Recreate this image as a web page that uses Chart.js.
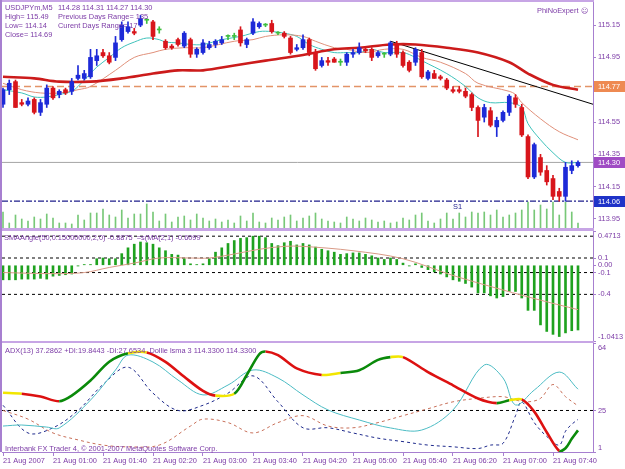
<!DOCTYPE html>
<html>
<head>
<meta charset="utf-8">
<script src="https://cdn.jsdelivr.net/npm/chart.js@4.4.0/dist/chart.umd.min.js"></script>
<style>
body { margin:0; background:#fff; width:625px; height:469px; position:relative; overflow:hidden; font-family:"Liberation Sans", sans-serif; }
canvas { position:absolute; left:0; }
.t { position:absolute; color:#7b3aa6; font-size:7.4px; white-space:pre; line-height:9px; }
.sep { position:absolute; background:#c7a5e5; }
</style>
</head>
<body>
<canvas id="cMain" width="625" height="230" style="top:0"></canvas>
<canvas id="cAngle" width="625" height="114" style="top:229px"></canvas>
<canvas id="cAdx" width="625" height="128" style="top:341px"></canvas>

<div class="sep" style="left:0;top:0;width:594px;height:2px"></div>
<div class="sep" style="left:0;top:228px;width:594px;height:3px"></div>
<div class="sep" style="left:0;top:341px;width:594px;height:2px"></div>
<div class="sep" style="left:0;top:0;width:2px;height:452px;background:#a77fd0"></div>

<div class="t" style="left:5px;top:3px">USDJPYm,M5</div>
<div class="t" style="left:58px;top:3px">114.28 114.31 114.27 114.30</div>
<div class="t" style="left:5px;top:12px">High= 115.49</div>
<div class="t" style="left:58px;top:12px">Previous Days Range= 135</div>
<div class="t" style="left:5px;top:21px">Low= 114.14</div>
<div class="t" style="left:58px;top:21px">Curent Days Range= 17</div>
<div class="t" style="left:5px;top:30px">Close= 114.69</div>
<div class="t" style="left:537px;top:6px">PhiNoExpert ☹</div>
<div class="t" style="left:4px;top:233px">SMAAngle(50,0.15000000,2,0) -0.8875  =s(MA(2,1) -0.6099</div>
<div class="t" style="left:5px;top:346px">ADX(13) 37.2862 +DI:19.8443 -DI:27.6534  Dollie lsma 3 114.3300 114.3300</div>
<div class="t" style="left:5px;top:444px">Interbank FX Trader 4, © 2001-2007 MetaQuotes Software Corp.</div>

<script>
// USDJPYm M5, 21 Aug 2007, one bar every 5 minutes from 00:20
var opens  = [114.66,114.75,114.80,114.67,114.66,114.69,114.61,114.66,114.76,114.72,114.75,114.74,114.82,114.82,114.83,114.93,114.98,114.96,114.95,115.06,
              115.11,115.11,115.15,115.18,115.17,115.12,115.05,115.02,115.06,115.02,115.06,114.97,114.98,115.01,115.03,115.04,115.08,115.08,115.12,115.03,
              115.10,115.14,115.15,115.16,115.10,115.10,115.07,115.00,115.01,115.06,114.98,114.90,114.93,114.94,114.92,114.92,114.97,114.98,115.00,115.00,
              114.96,114.97,114.97,115.03,114.98,114.92,114.92,114.98,114.82,114.85,114.83,114.81,114.75,114.75,114.74,114.72,114.64,114.58,114.62,114.52,
              114.56,114.61,114.70,114.64,114.46,114.21,114.33,114.25,114.20,114.12,114.09,114.25,114.28];
var highs  = [114.76,114.81,114.81,114.69,114.70,114.70,114.69,114.78,114.77,114.75,114.76,114.82,114.90,114.87,115.00,115.00,115.00,114.98,115.08,115.17,
              115.17,115.13,115.21,115.19,115.18,115.14,115.06,115.03,115.07,115.11,115.07,115.01,115.06,115.05,115.06,115.08,115.09,115.10,115.14,115.07,
              115.19,115.17,115.16,115.18,115.11,115.11,115.08,115.03,115.09,115.07,115.00,114.95,114.95,114.95,114.94,114.98,115.00,115.04,115.01,115.01,
              114.99,114.98,115.05,115.05,114.99,114.93,115.01,115.00,114.87,114.87,114.84,114.82,114.77,114.77,114.76,114.73,114.65,114.66,114.64,114.58,
              114.62,114.72,114.72,114.66,114.47,114.42,114.35,114.28,114.22,114.14,114.30,114.31,114.31];
var lows   = [114.64,114.72,114.64,114.65,114.65,114.60,114.59,114.64,114.69,114.70,114.72,114.72,114.81,114.81,114.82,114.90,114.95,114.91,114.93,115.05,
              115.10,115.09,115.14,115.16,115.06,115.10,115.00,115.00,115.02,115.01,114.95,114.95,114.97,115.00,115.01,115.03,115.06,115.06,115.02,115.01,
              115.09,115.13,115.14,115.10,115.09,115.07,114.97,114.99,115.00,114.96,114.87,114.89,114.90,114.92,114.90,114.90,114.95,114.97,114.98,114.93,
              114.95,114.95,114.96,114.95,114.89,114.86,114.90,114.82,114.81,114.82,114.81,114.75,114.73,114.73,114.70,114.62,114.46,114.55,114.52,114.46,
              114.55,114.59,114.64,114.46,114.20,114.20,114.22,114.16,114.07,114.06,114.06,114.23,114.27];
var closes = [114.75,114.79,114.64,114.66,114.68,114.61,114.67,114.76,114.70,114.74,114.73,114.80,114.84,114.85,114.95,114.96,114.96,114.92,115.04,115.15,
              115.14,115.10,115.19,115.18,115.08,115.12,115.01,115.01,115.03,115.10,114.97,115.00,115.04,115.03,115.05,115.06,115.08,115.08,115.04,115.06,
              115.17,115.16,115.15,115.11,115.10,115.08,114.98,115.01,115.06,114.98,114.88,114.93,114.92,114.92,114.92,114.97,114.98,115.01,114.99,114.95,
              114.98,114.97,115.04,114.97,114.90,114.87,115.00,114.83,114.86,114.82,114.82,114.76,114.74,114.74,114.71,114.64,114.56,114.64,114.53,114.56,
              114.61,114.71,114.66,114.47,114.21,114.41,114.24,114.18,114.09,114.09,114.27,114.28,114.30];
var volumes = [32,10,26,18,14,22,18,28,20,10,10,8,26,16,30,30,38,26,22,36,20,28,28,48,32,14,28,12,22,24,16,28,
               20,14,18,12,16,10,24,14,30,12,10,20,16,22,26,14,20,24,30,18,14,12,10,22,18,14,20,16,12,
               14,10,12,20,16,26,30,14,10,18,30,18,30,22,32,30,32,26,36,22,26,30,36,52,36,46,38,52,26,52,32,10];

// moving averages (bar index, price)
var maSlowBars = [0,5,9,14,19,24,28,32,37,42,48,53,57,62,66,71,76,81,84,88,92];
var maSlowVals = [114.83,114.82,114.80,114.80,114.82,114.85,114.87,114.87,114.90,114.93,114.965,115.00,115.01,115.03,115.03,115.01,114.98,114.92,114.85,114.78,114.75];
var maMidBars = [0,3,6,9,12,14,18,21,24,26,29,32,37,40,42,45,48,50,53,55,58,61,64,67,70,74,76,81,82,83,86,89,92];
var maMidVals = [114.79,114.75,114.73,114.73,114.75,114.77,114.87,114.95,114.98,115.00,115.01,115.01,115.05,115.06,115.08,115.09,115.08,115.05,115.01,115.00,114.98,115.00,115.00,114.95,114.92,114.85,114.79,114.74,114.72,114.67,114.57,114.49,114.44];
var maFastBars = [0,3,5,7,9,11,12,14,15,17,19,21,23,25,26,28,30,32,35,38,41,43,45,47,49,51,53,55,57,59,61,64,66,67,71,74,76,78,81,83,84,86,88,90,92];
var maFastVals = [114.75,114.73,114.705,114.705,114.72,114.74,114.77,114.85,114.89,114.95,115.01,115.045,115.07,115.06,115.045,115.04,115.03,115.03,115.06,115.08,115.11,115.11,115.10,115.08,115.03,115.00,114.98,114.98,114.98,115.00,114.98,114.98,114.95,114.93,114.85,114.77,114.70,114.67,114.67,114.64,114.54,114.44,114.36,114.30,114.30];
var trendBars = [62, 94.4];
var trendVals = [115.05, 114.66];
var pivotLevel = 114.77, bidLevel = 114.30, s1Level = 114.06;
var priceTicks = [113.95,114.15,114.35,114.55,114.75,114.95,115.15];

// SMAAngle pane
var angle = [-0.20,-0.20,-0.20,-0.19,-0.19,-0.19,-0.18,-0.19,-0.15,-0.14,-0.13,-0.12,
             -0.01,0.01,0.01,0.09,0.10,0.09,0.09,0.16,0.24,0.29,0.32,0.31,0.29,0.24,0.20,0.15,0.14,0.09,0.02,0.01,0.02,0.09,0.18,0.24,0.30,0.34,0.37,0.38,0.40,0.40,0.38,0.30,0.27,0.31,0.33,0.28,
             0.30,0.28,0.25,0.22,0.20,0.18,0.15,0.16,0.17,0.17,0.15,0.13,0.10,0.08,0.10,0.08,0.03,-0.01,0.02,-0.03,-0.06,-0.09,-0.12,-0.16,-0.20,-0.22,-0.25,-0.30,-0.38,-0.38,-0.42,-0.45,-0.43,-0.36,-0.36,-0.45,-0.62,-0.62,-0.82,-0.91,-0.95,-0.98,-0.93,-0.90,-0.89];
var signalBars = [0,8,13,17,21,25,30,33,37,41,45,48,56,64,72,80,86,92];
var signalVals = [-0.10,-0.115,-0.10,-0.03,0.03,0.10,0.10,0.10,0.155,0.22,0.26,0.26,0.20,0.09,-0.14,-0.34,-0.48,-0.61];
var angleLevels = [0.4,0.1,-0.1,-0.4];
var angleTicks = [0.4713,0.1,0,-0.1,-0.4,-1.0413];
var angleTickText = ['0.4713','0.1','0.00','-0.1','-0.4','-1.0413'];

// ADX pane
var adxBars = [0,3,7,9,14,18,20,24,28,32,36,40,44,48,52,57,62,67,72,77,80,82,85,89,92];
var adxVals = [16.0,16.6,15.4,14.9,31,48.4,57,53,42.6,34,39.7,48.4,43.8,34,25.3,19.5,14.9,13.7,25.3,51.3,43.8,28.2,36.8,47.2,37.3];
var plusDiBars = [0,4,8,12,16,20,24,28,32,36,40,44,48,52,56,60,64,68,72,76,78,80,82,83,85,87,89,90,91,92];
var plusDiVals = [28,12,15,25,40,50,35,25,28,35,45,30,15,15,12,9,7,5,4,3,5,6,22,30,18,10,5,13,17,19.84];
var minusDiBars = [0,4,8,12,16,20,25,30,32,36,40,44,48,52,56,60,64,68,72,76,80,82,84,86,88,90,92];
var minusDiVals = [25,20,12,8,5,4,5,16,20,18,12,18,22,16,15,18,22,26,30,32,33,31,30,32,40,33,27.65];
var lsmaBars = [0,3,6,9,11,14,17,20,23,26,29,32,34,37,39,41,42,44,47,51,54,57,60,62,64,68,72,76,79,81,83,85,87,89,90,91,92];
var lsmaVals = [114.73,114.72,114.69,114.64,114.70,114.86,115.06,115.15,115.16,115.06,114.90,114.75,114.70,114.72,114.92,115.14,115.17,115.13,114.99,114.92,114.94,114.97,115.08,115.11,115.11,114.95,114.81,114.67,114.62,114.65,114.66,114.53,114.31,114.11,114.14,114.24,114.33];
var adxTicks = [64,25,1];

var xTickBars = [0,8,16,24,32,40,48,56,64,72,80,88];
var xTickLabels = ['21 Aug 2007','21 Aug 01:00','21 Aug 01:40','21 Aug 02:20','21 Aug 03:00','21 Aug 03:40',
                   '21 Aug 04:20','21 Aug 05:00','21 Aug 05:40','21 Aug 06:20','21 Aug 07:00','21 Aug 07:40'];

var TXT = '#7b3aa6', FRAME = '#a77fd0';
var XMIN = -0.16, XMAX = 94.4;
var FONT = '7.4px "Liberation Sans"';

function pts(bars, vals) { return bars.map(function (b, i) { return {x: b, y: vals[i]}; }); }
function level(v, color, dash, width) {
  return {type: 'line', data: [{x: XMIN, y: v}, {x: XMAX, y: v}], borderColor: color, borderDash: dash,
          borderWidth: width, pointRadius: 0, order: 8};
}
function line(bars, vals, color, width, extra) {
  return Object.assign({type: 'line', data: pts(bars, vals), borderColor: color, borderWidth: width,
                        pointRadius: 0, tension: 0.35, order: 3}, extra || {});
}

var rightLabels = {
  id: 'rightLabels',
  afterDraw: function (chart, args, o) {
    var ctx = chart.ctx, a = chart.chartArea, s = chart.scales.y;
    ctx.save();
    ctx.font = FONT; ctx.textBaseline = 'middle'; ctx.textAlign = 'left';
    o.values.forEach(function (v, i) {
      var y = Math.min(Math.max(s.getPixelForValue(v), a.top + 5), a.bottom - 4);
      ctx.fillStyle = TXT;
      ctx.fillText(o.labels[i], a.right + 5, y);
    });
    (o.tags || []).forEach(function (t) {
      var y = Math.round(s.getPixelForValue(t.value));
      ctx.fillStyle = t.bg;
      ctx.fillRect(a.right + 1, y - 5, 31, 11);
      ctx.fillStyle = '#fff';
      ctx.fillText(t.value.toFixed(2), a.right + 5, y + 0.5);
    });
    if (o.note) {
      ctx.fillStyle = '#1e1e8c';
      ctx.fillText(o.note.text, chart.scales.x.getPixelForValue(o.note.bar), s.getPixelForValue(o.note.value) + 6);
    }
    ctx.restore();
  }
};

function yAxis(min, max, ticks) {
  return {
    position: 'right', min: min, max: max,
    afterFit: function (s) { s.width = 32; },
    afterBuildTicks: function (s) { s.ticks = ticks.map(function (v) { return {value: v}; }); },
    ticks: {display: false},
    grid: {drawOnChartArea: false, tickLength: 3, color: FRAME},
    border: {color: FRAME}
  };
}
function baseOptions(yScale, labels, extraScales, showX) {
  var scales = {
    x: {type: 'linear', min: XMIN, max: XMAX, offset: false, display: !!showX},
    y: yScale
  };
  Object.assign(scales, extraScales || {});
  return {
    responsive: false, animation: false, events: [],
    layout: {padding: {left: 2, top: 2, bottom: showX ? 0 : 2}},
    plugins: {legend: {display: false}, tooltip: {enabled: false}, rightLabels: labels},
    scales: scales
  };
}

// ---- main price pane
var upC = '#1d2ad8', dnC = '#d8151b', dojiC = '#3fbf3f';
var candleCol = opens.map(function (o, i) { return closes[i] > o ? upC : (closes[i] < o ? dnC : dojiC); });
var mainOpts = baseOptions(yAxis(113.894, 115.293, priceTicks), {
  values: priceTicks, labels: priceTicks.map(function (v) { return v.toFixed(2); }),
  tags: [{value: pivotLevel, bg: '#ee8a52'}, {value: bidLevel, bg: '#a04cc4'}, {value: s1Level, bg: '#1f33c8'}],
  note: {text: 'S1', bar: 72, value: s1Level}
}, {yVol: {display: false, min: 0, max: 452}});
new Chart(document.getElementById('cMain'), {
  type: 'bar',
  data: {
    datasets: [
      {data: pts(opens.map(function (o, i) { return i; }), volumes), yAxisID: 'yVol', backgroundColor: '#78c878',
       barThickness: 1, grouped: false, order: 10},
      level(pivotLevel, '#e39468', [7, 4], 1.5),
      level(bidLevel, '#a4a4a4', [], 1),
      level(s1Level, '#1e1e8c', [6, 2, 2, 2], 1.2),
      line(maSlowBars, maSlowVals, '#cc1b1b', 2.6),
      line(maMidBars, maMidVals, '#e0907a', 1),
      line(maFastBars, maFastVals, '#3fc2bb', 1),
      line(trendBars, trendVals, '#000000', 1, {tension: 0}),
      {data: lows.map(function (l, i) { return {x: i, y: [l, highs[i]]}; }), backgroundColor: candleCol,
       barThickness: 1, grouped: false, order: 1},
      {data: opens.map(function (o, i) { return {x: i, y: [o, closes[i]]}; }), backgroundColor: candleCol,
       barThickness: 4, minBarLength: 1, grouped: false, order: 0}
    ]
  },
  options: mainOpts,
  plugins: [rightLabels]
});

// ---- SMAAngle pane
var angleDatasets = angleLevels.map(function (v) { return level(v, '#000000', [3, 3], 1); });
angleDatasets.push(line(signalBars, signalVals, '#d99a86', 1, {order: 1}));
angleDatasets.push({data: pts(angle.map(function (a, i) { return i; }), angle), backgroundColor: '#1fa21f',
                    barThickness: 2, grouped: false, order: 2});
new Chart(document.getElementById('cAngle'), {
  type: 'bar',
  data: {datasets: angleDatasets},
  options: baseOptions(yAxis(-1.0413, 0.4713, angleTicks), {values: angleTicks, labels: angleTickText}),
  plugins: [rightLabels]
});

// ---- ADX / LSMA pane
var adxOpts = baseOptions(yAxis(1, 64, adxTicks), {values: adxTicks, labels: adxTicks.map(String)},
  {yL: {display: false, min: 114.10, max: 115.26}}, true);
adxOpts.scales.x = {
  type: 'linear', min: XMIN, max: XMAX, position: 'bottom', offset: false,
  afterBuildTicks: function (s) { s.ticks = xTickBars.map(function (v) { return {value: v}; }); },
  afterFit: function (s) { s.height = 17; },
  ticks: {callback: function (v, i) { return xTickLabels[i]; }, align: 'start', maxRotation: 0, autoSkip: false,
          font: {size: 7.4, family: 'Liberation Sans'}, color: TXT, padding: 1},
  grid: {drawOnChartArea: false, tickLength: 4, color: FRAME},
  border: {color: FRAME}
};
function lsmaColor(c) {
  var d = c.p1.parsed.y - c.p0.parsed.y;
  return d > 0.02 ? '#0a8a0a' : (d < -0.02 ? '#dd1111' : '#f2e600');
}
new Chart(document.getElementById('cAdx'), {
  type: 'line',
  data: {
    datasets: [
      level(25, '#000000', [3, 3], 1),
      line(adxBars, adxVals, '#4cbcc4', 1),
      line(plusDiBars, plusDiVals, '#1e2a8c', 1, {borderDash: [3, 3]}),
      line(minusDiBars, minusDiVals, '#c8705a', 1, {borderDash: [3, 3]}),
      line(lsmaBars, lsmaVals, '#dd1111', 2.6, {yAxisID: 'yL', order: 0, tension: 0.3, segment: {borderColor: lsmaColor}})
    ]
  },
  options: adxOpts,
  plugins: [rightLabels]
});
</script>
</body>
</html>
